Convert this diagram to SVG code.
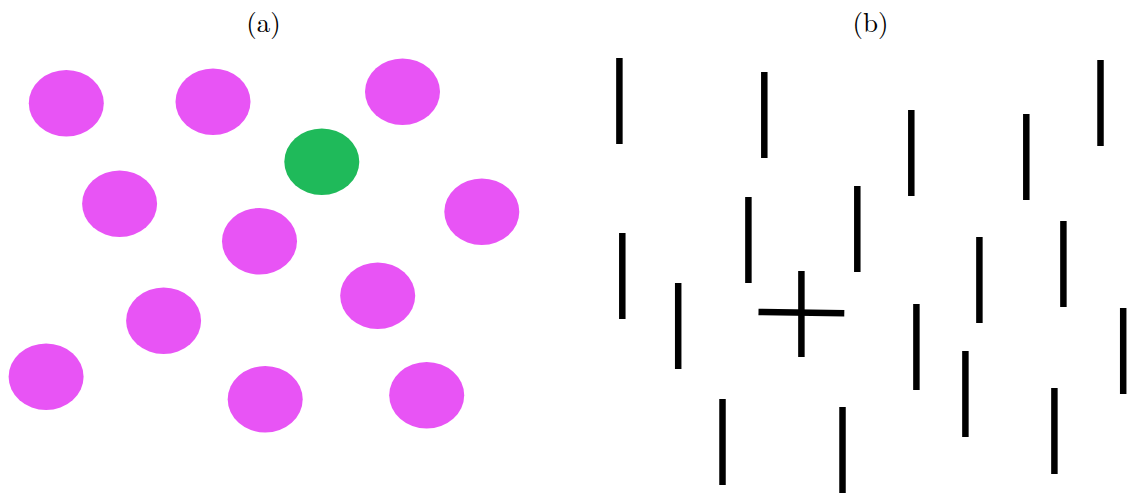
<svg xmlns="http://www.w3.org/2000/svg" width="1130" height="493" viewBox="0 0 1130 493">
  <style>
    .lbl { font-family: "Latin Modern Roman", "Liberation Serif", "DejaVu Serif", serif; font-size: 27px; fill: #000; text-anchor: middle; }
    .m { fill: #E854F5; }
    .g { fill: #1FBA5A; }
    .bar { stroke: #000; stroke-width: 6.5; stroke-linecap: butt; fill: none; }
  </style>
  <rect width="1130" height="493" fill="#fff"/>
  <g id="panel-a">
    <text class="lbl" x="263.5" y="31.5">(a)</text>
    <g id="dots">
      <ellipse class="m" cx="66.3" cy="103.3" rx="37.5" ry="33.3"/>
      <ellipse class="m" cx="213" cy="101.7" rx="37.5" ry="33.3"/>
      <ellipse class="m" cx="402.5" cy="91.7" rx="37.5" ry="33.3"/>
      <ellipse id="target-dot" class="g" cx="321.8" cy="161.7" rx="37.5" ry="33.3"/>
      <ellipse class="m" cx="119.6" cy="203.7" rx="37.5" ry="33.3"/>
      <ellipse class="m" cx="481.8" cy="211.7" rx="37.5" ry="33.3"/>
      <ellipse class="m" cx="259.5" cy="241.3" rx="37.5" ry="33.3"/>
      <ellipse class="m" cx="377.7" cy="295.7" rx="37.5" ry="33.3"/>
      <ellipse class="m" cx="163.6" cy="320.7" rx="37.5" ry="33.3"/>
      <ellipse class="m" cx="46.1" cy="376.7" rx="37.5" ry="33.3"/>
      <ellipse class="m" cx="265.2" cy="399.3" rx="37.5" ry="33.3"/>
      <ellipse class="m" cx="426.7" cy="395.3" rx="37.5" ry="33.3"/>
    </g>
  </g>
  <g id="panel-b">
    <text class="lbl" x="870.5" y="31.5">(b)</text>
    <g id="bars">
      <line class="bar" x1="619.4" y1="58" x2="619.4" y2="144"/>
      <line class="bar" x1="764.3" y1="72" x2="764.3" y2="158"/>
      <line class="bar" x1="911.3" y1="110" x2="911.3" y2="196"/>
      <line class="bar" x1="1026.3" y1="114" x2="1026.3" y2="200"/>
      <line class="bar" x1="1100.5" y1="60" x2="1100.5" y2="146"/>
      <line class="bar" x1="622.3" y1="233" x2="622.3" y2="319"/>
      <line class="bar" x1="748.4" y1="197" x2="748.4" y2="283"/>
      <line class="bar" x1="857.3" y1="186" x2="857.3" y2="272"/>
      <line class="bar" x1="979.4" y1="237" x2="979.4" y2="323"/>
      <line class="bar" x1="1063.4" y1="221" x2="1063.4" y2="307"/>
      <line class="bar" x1="678.2" y1="283" x2="678.2" y2="369"/>
      <line class="bar" x1="916.4" y1="304" x2="916.4" y2="390"/>
      <line class="bar" x1="965.4" y1="351" x2="965.4" y2="437"/>
      <line class="bar" x1="1123.2" y1="308" x2="1123.2" y2="394"/>
      <line class="bar" x1="722.5" y1="399" x2="722.5" y2="485"/>
      <line class="bar" x1="842.5" y1="407" x2="842.5" y2="493"/>
      <line class="bar" x1="1054.4" y1="388" x2="1054.4" y2="474"/>
    </g>
    <g id="cross">
      <line class="bar" x1="801.4" y1="271" x2="801.4" y2="357"/>
      <line class="bar" x1="758.5" y1="312" x2="844.3" y2="313.3"/>
    </g>
  </g>
</svg>
